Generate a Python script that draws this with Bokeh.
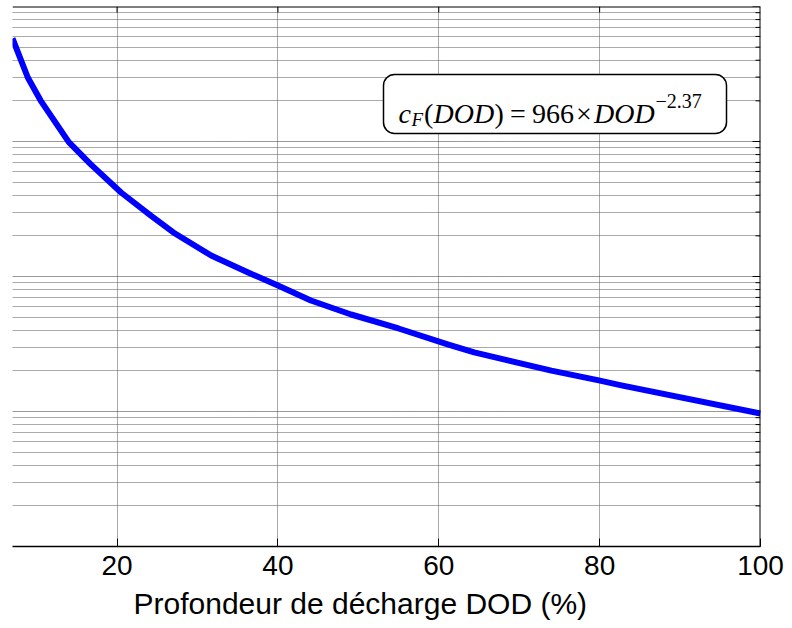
import math
from bokeh.plotting import figure
from bokeh.models import FixedTicker, BoxAnnotation, Label, Range1d, Span, Title
from bokeh.embed import file_html
from bokeh.resources import INLINE

# ---- data ----
dod = [7.0, 8.9, 10.5, 14.0, 16.7, 20.5, 24.2, 27.0, 31.7, 36.3, 40.0, 44.1, 49.1,
       55.0, 61.2, 64.4, 68.6, 74.0, 79.9, 82.7, 100.0]
cycles = [5.8e5, 2.98e5, 2.01e5, 9.9e4, 6.8e4, 4.19e4, 2.83e4, 2.12e4, 1.43e4, 1.07e4,
          8.58e3, 6.64e3, 5.23e3, 4.12e3, 3.13e3, 2.74e3, 2.39e3, 2.01e3, 1.70e3, 1.56e3, 966]
x_ticks = [20, 40, 60, 80, 100]
y_decades = [1e2, 1e3, 1e4, 1e5, 1e6]
y_minor = [m * 10 ** e for e in range(2, 6) for m in range(2, 10)]
x_label = "Profondeur de décharge DOD (%)"

# ---- layout constants (pixels) ----
W, H = 792, 628
FL, FR_B, FT, FB_B = 12, 32, 6, 82
frame_w = W - FL - FR_B
frame_h = H - FT - FB_B
DEC = frame_h / 4.0
X0, X1 = 7.0, 100.0
Y0, Y1 = 1e2, 1e6

p = figure(width=W, height=H, x_range=Range1d(X0, X1), y_range=Range1d(Y0, Y1),
           y_axis_type="log", y_axis_location=None,
           output_backend="svg", toolbar_location=None,
           min_border_left=FL, min_border_right=FR_B, min_border_top=FT, min_border_bottom=FB_B)
p.outline_line_color = None
p.background_fill_color = "white"

# page-pixel -> data helpers
KX = frame_w / (X1 - X0)
def xd(px):
    return X0 + (px - FL) / KX
def yd(py):
    return 10 ** (2 + (FT + frame_h - py) / DEC)

# grids
p.xgrid.ticker = FixedTicker(ticks=x_ticks[:-1])
p.xgrid.grid_line_color = "#555555"
p.xgrid.grid_line_dash = "1 1"
p.ygrid.ticker = FixedTicker(ticks=y_decades, minor_ticks=y_minor)
p.ygrid.grid_line_color = "#333333"
p.ygrid.grid_line_dash = "1 1"
p.ygrid.minor_grid_line_color = "#555555"
p.ygrid.minor_grid_line_dash = "1 1"

# bottom axis
xa = p.xaxis[0]
xa.ticker = FixedTicker(ticks=x_ticks, minor_ticks=[])
xa.major_tick_in = 8
xa.major_tick_out = 0
xa.minor_tick_in = 0
xa.minor_tick_out = 0
xa.axis_line_color = "black"
xa.axis_line_width = 1.5
xa.major_label_text_font = "Liberation Sans"
xa.major_label_text_font_size = "28px"
xa.major_label_text_color = "black"
xa.major_label_standoff = 9

# x axis title (placed under the axis, offset from the frame's left edge)
p.add_layout(Title(text=x_label, align="left", offset=121, text_font="Liberation Sans",
                   text_font_size="30px", text_font_style="normal", text_color="black",
                   standoff=15), "below")

# top and right frame lines
p.add_layout(Span(location=Y1, dimension="width", line_color="black", line_width=2))
p.add_layout(Span(location=X1, dimension="height", line_color="black", line_width=2))

# inward ticks on the top and right edges
p.ray(x=x_ticks[:-1], y=[Y1] * (len(x_ticks) - 1), length=6, length_units="screen",
      angle=-math.pi / 2, line_color="black", line_width=1)
p.ray(x=[X1] * len(y_minor), y=y_minor, length=5, length_units="screen",
      angle=math.pi, line_color="black", line_width=1)
p.ray(x=[X1] * len(y_decades), y=y_decades, length=8, length_units="screen",
      angle=math.pi, line_color="black", line_width=1)

# curve
p.line(dod, cycles, line_color="#0000ff", line_width=6, line_join="round")

# formula box
p.add_layout(BoxAnnotation(left=xd(383), right=xd(726), top=yd(74), bottom=yd(133),
                           fill_color="white", fill_alpha=1.0, line_color="black",
                           line_alpha=1.0, line_width=1.5, border_radius=11))

def lab(px, py, t, size, italic):
    p.add_layout(Label(x=xd(px), y=yd(py), text=t, text_font="Liberation Serif",
                       text_font_size=size, text_font_style="italic" if italic else "normal",
                       text_align="left", text_baseline="alphabetic", text_color="black"))

lab(398, 113, "c", "28px", True)
lab(411, 119, "F", "19px", True)
lab(423.5, 113, "(", "28px", False)
lab(433, 113, "DOD", "28px", True)
lab(494, 113, ")", "28px", False)
lab(509.5, 113, "=", "28px", False)
lab(531.5, 113, "966", "28px", False)
lab(575.5, 113, "×", "28px", False)
lab(593.5, 113, "DOD", "28px", True)
lab(655, 100, "−2.37", "20px", False)

open("out.html", "w").write(file_html(p, INLINE))
